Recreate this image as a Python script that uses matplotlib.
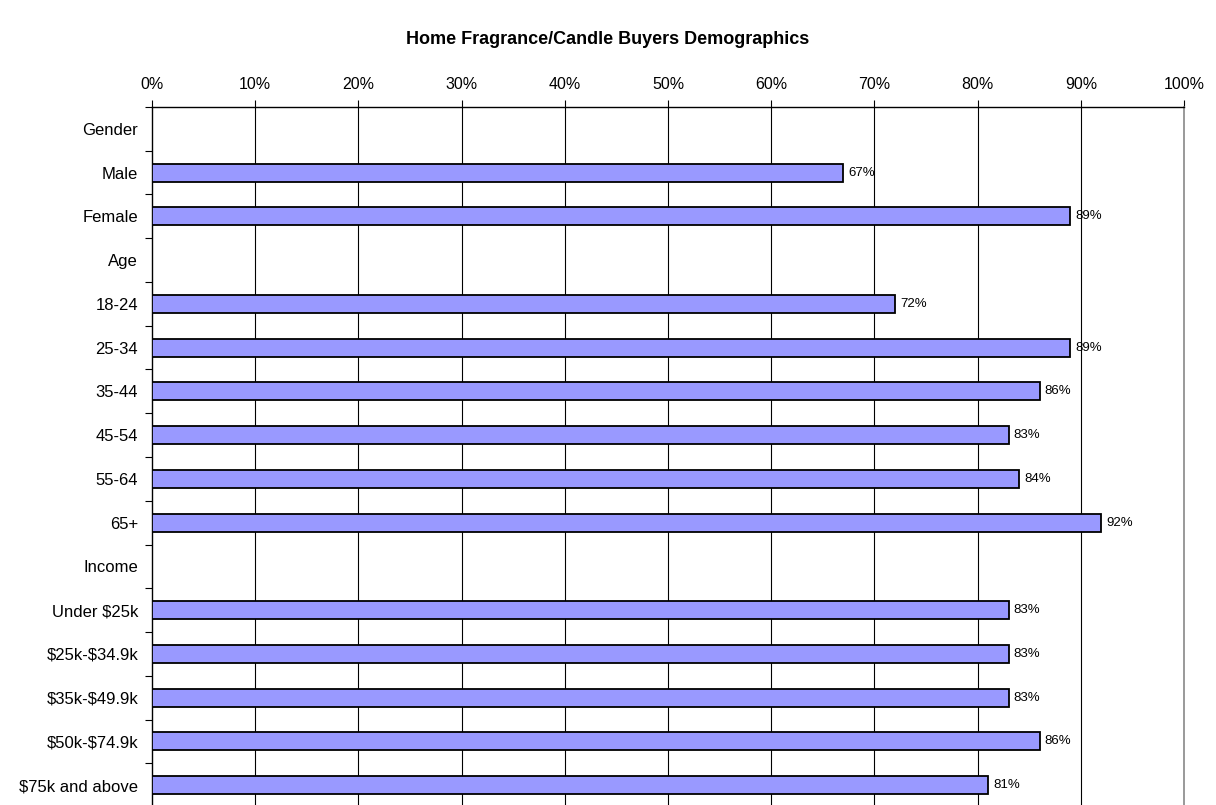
import matplotlib
matplotlib.use("Agg")
import matplotlib.pyplot as plt
import numpy as np

plt.rcParams["font.family"] = ["Liberation Sans", "DejaVu Sans"]
plt.rcParams["text.parse_math"] = False

categories = ["Gender", "Male", "Female", "Age", "18-24", "25-34", "35-44",
              "45-54", "55-64", "65+", "Income", "Under $25k", "$25k-$34.9k",
              "$35k-$49.9k", "$50k-$74.9k", "$75k and above"]
values = [None, 67, 89, None, 72, 89, 86, 83, 84, 92, None, 83, 83, 83, 86, 81]
xticks = np.arange(0, 101, 10)

fig = plt.figure(figsize=(12.16, 8.05), dpi=100)
ax = fig.add_axes([0.125, -0.0025, 0.8487, 0.8696])

y = np.arange(len(categories))
for yy, v in zip(y, values):
    if v is None:
        continue
    ax.barh(yy, v, height=0.41, color="#9999FF", edgecolor="black", lw=1.3, zorder=3)
    ax.text(v + 0.5, yy, f"{v}%", va="center", ha="left", fontsize=9.5, zorder=4)

ax.set_xlim(0, 100)
ax.set_ylim(len(categories) - 0.5, -0.5)
ax.set_xticks(xticks)
ax.set_xticklabels([f"{t}%" for t in xticks], fontsize=11.5)
ax.xaxis.tick_top()
ax.tick_params(axis="x", direction="out", length=5, width=0.8, pad=6)
for t in xticks[1:-1]:
    ax.axvline(t, color="black", lw=0.8, zorder=1)

ax.set_yticks(y)
ax.set_yticklabels(categories, fontsize=12)
ax.set_yticks(np.arange(-0.5, len(categories), 1), minor=True)
ax.tick_params(axis="y", which="major", length=0, pad=10)
ax.tick_params(axis="y", which="minor", direction="out", length=5, width=0.8)

ax.spines["top"].set_linewidth(1.0)
ax.spines["left"].set_linewidth(1.0)
ax.spines["right"].set_color("#888888")
ax.spines["right"].set_linewidth(1.2)
ax.spines["bottom"].set_visible(False)

fig.text(0.5, 1 - 40 / 805, "Home Fragrance/Candle Buyers Demographics",
         ha="center", va="center", fontsize=13, fontweight="bold")

fig.savefig("out.png", dpi=100)
